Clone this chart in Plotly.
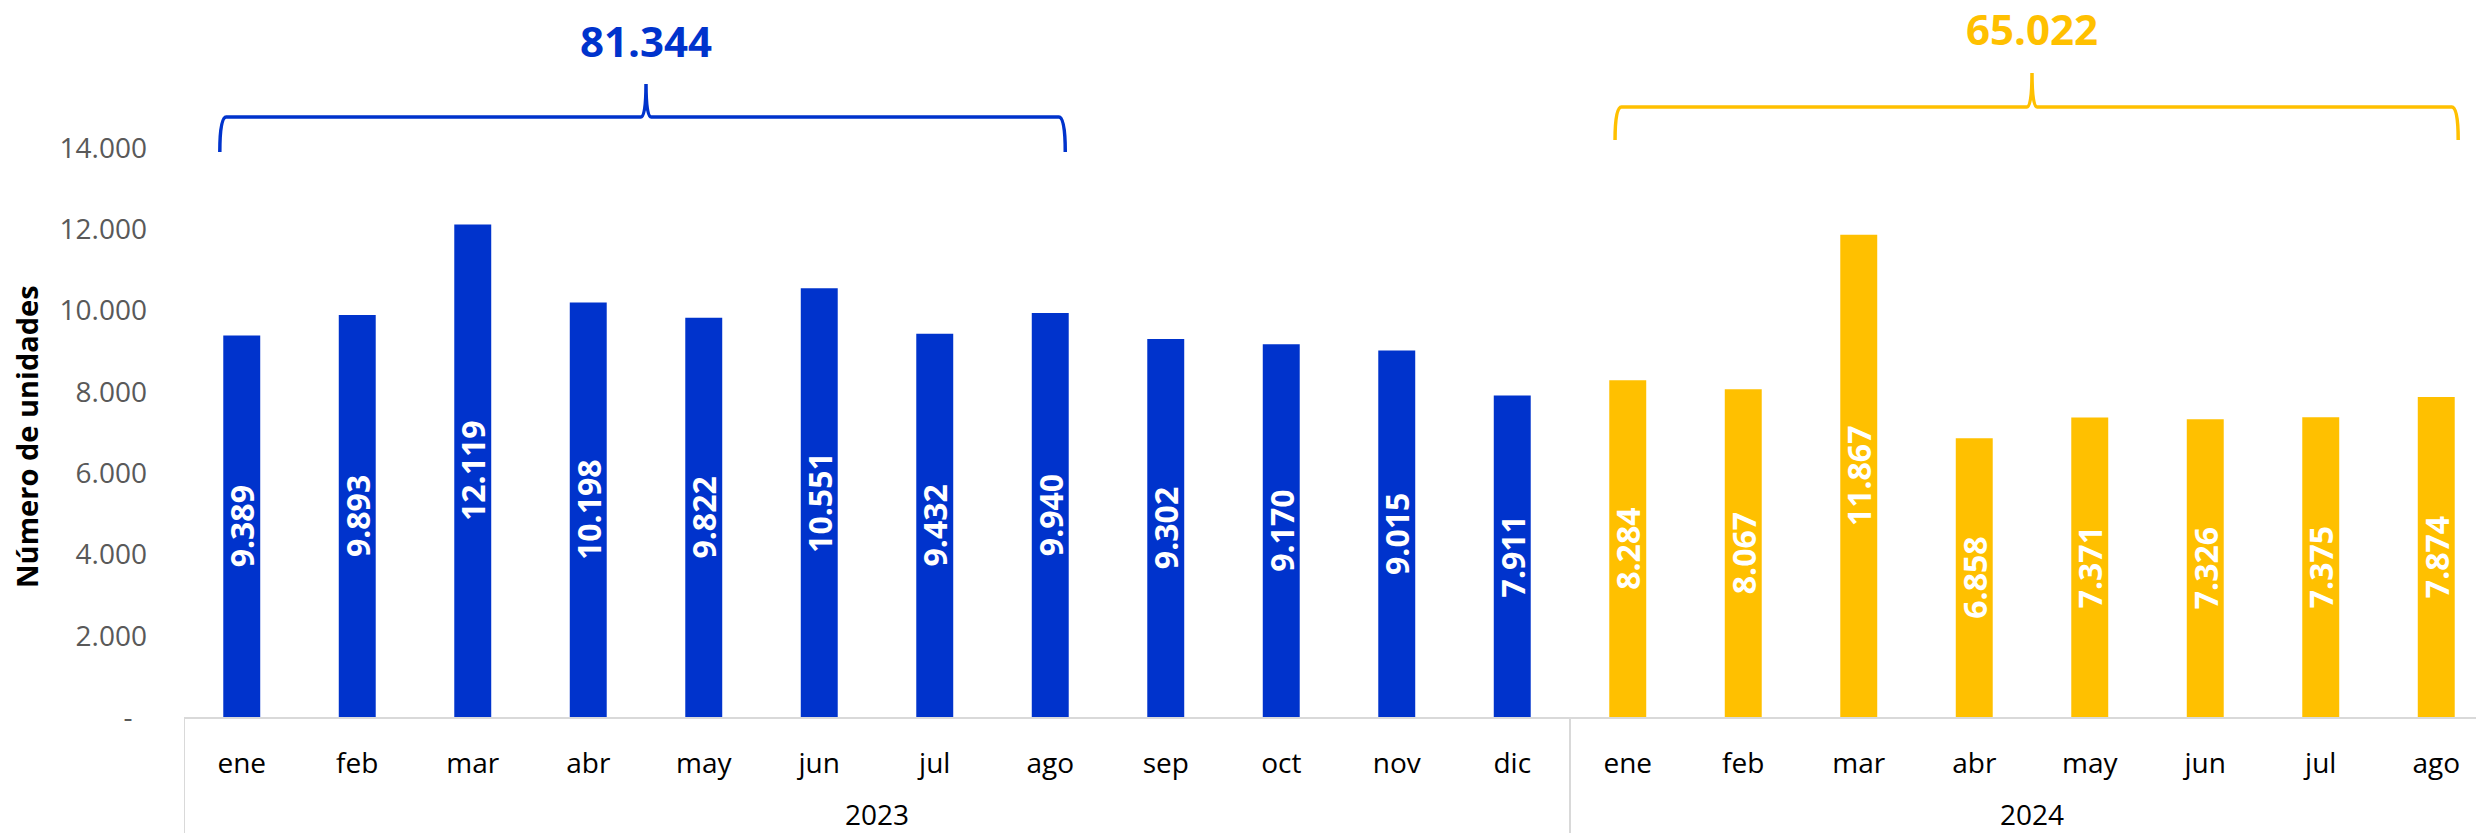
import plotly.graph_objects as go

# ---------------- data ----------------
months_2023 = ["ene", "feb", "mar", "abr", "may", "jun", "jul", "ago", "sep", "oct", "nov", "dic"]
months_2024 = ["ene", "feb", "mar", "abr", "may", "jun", "jul", "ago"]
values_2023 = [9389, 9893, 12119, 10198, 9822, 10551, 9432, 9940, 9302, 9170, 9015, 7911]
values_2024 = [8284, 8067, 11867, 6858, 7371, 7326, 7375, 7874]
year_2023 = "2023"
year_2024 = "2024"
y_tickvals = [0, 2000, 4000, 6000, 8000, 10000, 12000, 14000]
y_ticktext = ["-\u00a0\u00a0", "2.000", "4.000", "6.000", "8.000", "10.000", "12.000", "14.000"]
y_title = "Número de unidades"

# totals for the comparable period (ene-ago)
n_cmp = len(values_2024)
total_2023 = sum(values_2023[:n_cmp])
total_2024 = sum(values_2024)


def fmt(v):
    return f"{v:,}".replace(",", ".")


# category positions on the x scale
n_a = len(months_2023)
n_b = len(months_2024)
x_2023 = list(range(n_a))
x_2024 = list(range(n_a, n_a + n_b))
all_months = months_2023 + months_2024
all_x = x_2023 + x_2024

# ---------------- style ----------------
BLUE = "#0033CC"
YELLOW = "#FFC000"
GRID = "#D9D9D9"
FONT = "Open Sans"
W, H = 2476, 833
ML, MR, MT, MB = 184, 0, 0, 116
plot_h = H - MT - MB
plot_w = W - ML - MR
px_per_unit = (717 - 148) / 14000.0
y_top = plot_h / px_per_unit
cat_w = 115.5
x_right = plot_w / cat_w - 0.5


def py(pix):
    """page pixel row -> y data value"""
    return (MT + plot_h - pix) / px_per_unit


def pyp(pix):
    """page pixel row -> paper y"""
    return (MT + plot_h - pix) / plot_h


fig = go.Figure()
for xs, vals, name, col in [(x_2023, values_2023, year_2023, BLUE),
                            (x_2024, values_2024, year_2024, YELLOW)]:
    fig.add_trace(go.Bar(
        x=xs,
        y=vals,
        name=name,
        marker=dict(color=col, line=dict(width=0)),
        width=0.32,
        texttemplate="%{y:,.0f}",
        textposition="inside",
        insidetextanchor="middle",
        textangle=-90,
        insidetextfont=dict(family=FONT, size=32, color="white", weight=700),
        hovertemplate=name + " %{customdata}: %{y:,.0f}<extra></extra>",
        customdata=[all_months[i] for i in xs],
    ))


def bracket(x0, x1, xm, y_end, y_h, y_tip, color):
    d = 0.055
    t = 0.045
    path = (f"M {x0},{y_end} Q {x0},{y_h} {x0 + d},{y_h} "
            f"L {xm - t},{y_h} Q {xm},{y_h} {xm},{y_tip} "
            f"Q {xm},{y_h} {xm + t},{y_h} "
            f"L {x1 - d},{y_h} Q {x1},{y_h} {x1},{y_end}")
    return dict(type="path", xref="x", yref="y", path=path,
                line=dict(color=color, width=3.5), layer="above")


i0a, i1a = x_2023[0], x_2023[n_cmp - 1]
i0b, i1b = x_2024[0], x_2024[-1]
shapes = [
    bracket(i0a - 0.19, i1a + 0.13, (i0a + i1a) / 2, py(152), py(117), py(84), BLUE),
    bracket(i0b - 0.11, i1b + 0.19, (i0b + i1b) / 2, py(140), py(107), py(73), YELLOW),
]
# group dividers of the two-level category axis
for xv in [x_2023[0] - 0.5, x_2024[0] - 0.5, x_2024[-1] + 0.5]:
    shapes.append(dict(type="line", xref="x", yref="paper", x0=xv, x1=xv,
                       y0=0, y1=pyp(H), line=dict(color=GRID, width=2), layer="above"))

annotations = [
    dict(x=(i0a + i1a) / 2, y=py(40), xref="x", yref="y", text=fmt(total_2023),
         showarrow=False, font=dict(family=FONT, size=42, color=BLUE, weight=700),
         xanchor="center", yanchor="middle"),
    dict(x=(i0b + i1b) / 2, y=py(28), xref="x", yref="y", text=fmt(total_2024),
         showarrow=False, font=dict(family=FONT, size=42, color=YELLOW, weight=700),
         xanchor="center", yanchor="middle"),
    dict(x=(26 - ML) / plot_w, y=pyp(437), xref="paper", yref="paper",
         text=y_title, textangle=-90, showarrow=False,
         font=dict(family=FONT, size=29, color="black", weight=700),
         xanchor="center", yanchor="middle"),
    dict(x=(x_2023[0] + x_2023[-1]) / 2, y=pyp(814), xref="x", yref="paper",
         text=year_2023, showarrow=False,
         font=dict(family=FONT, size=28, color="black"),
         xanchor="center", yanchor="middle"),
    dict(x=(x_2024[0] + x_2024[-1]) / 2, y=pyp(814), xref="x", yref="paper",
         text=year_2024, showarrow=False,
         font=dict(family=FONT, size=28, color="black"),
         xanchor="center", yanchor="middle"),
]

fig.update_layout(
    width=W, height=H,
    margin=dict(l=ML, r=MR, t=MT, b=MB, pad=0, autoexpand=False),
    paper_bgcolor="white", plot_bgcolor="white",
    barmode="overlay",
    showlegend=False,
    separators=",.",
    font=dict(family=FONT, size=28, color="black"),
    uniformtext=dict(minsize=32, mode="show"),
    shapes=shapes,
    annotations=annotations,
    xaxis=dict(
        range=[-0.5, x_right],
        tickmode="array", tickvals=all_x, ticktext=all_months,
        showline=True, linecolor=GRID, linewidth=2,
        showgrid=False, zeroline=False, ticks="",
        ticklabelstandoff=20,
        tickfont=dict(family=FONT, size=28, color="black"),
        automargin=False,
    ),
    yaxis=dict(
        range=[0, y_top],
        tickvals=y_tickvals, ticktext=y_ticktext,
        showgrid=False, zeroline=False, showline=False, ticks="",
        ticklabelstandoff=36,
        tickfont=dict(family=FONT, size=28, color="#595959"),
        automargin=False,
    ),
)

fig.write_html(
    "out.html",
    config={"displayModeBar": False},
    post_script="document.documentElement.style.margin='0';document.body.style.margin='0';"
                "document.body.style.overflow='hidden';",
)
